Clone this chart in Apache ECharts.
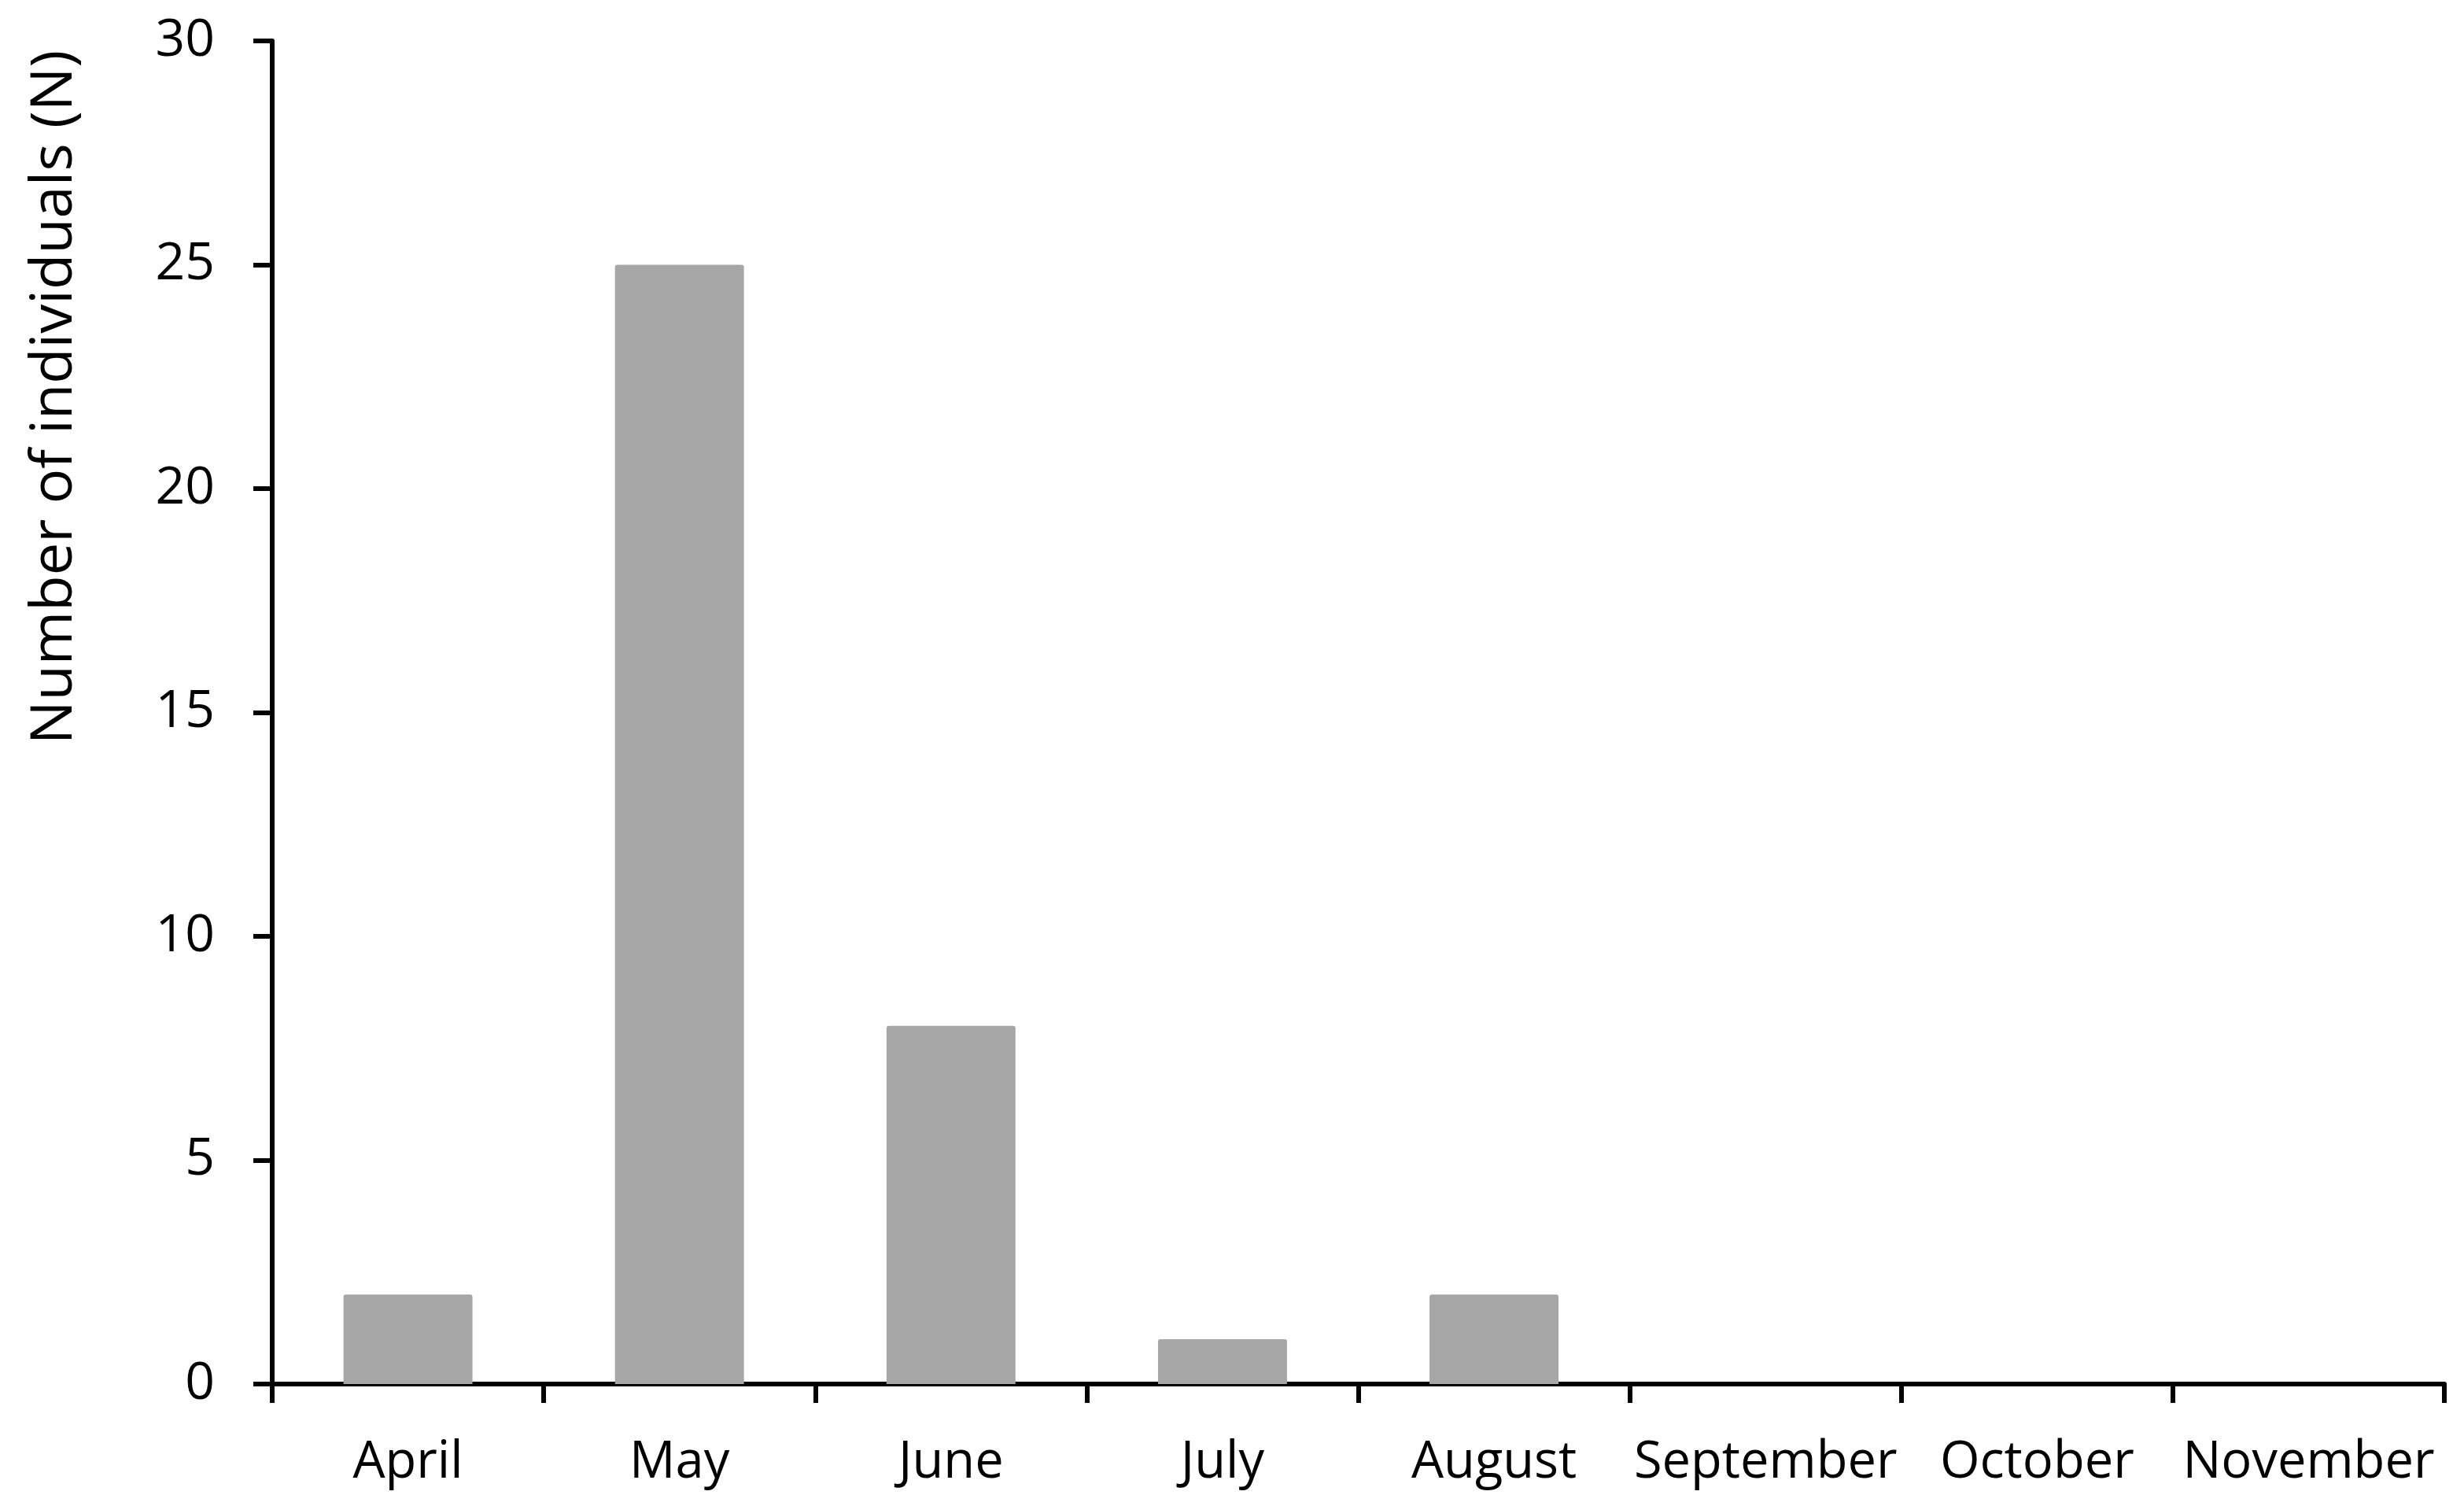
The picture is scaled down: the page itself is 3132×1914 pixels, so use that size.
<!DOCTYPE html>
<html>
<head>
<meta charset="utf-8">
<script src="https://cdn.jsdelivr.net/npm/echarts@6/dist/echarts.min.js"></script>
<style>
html,body{margin:0;padding:0;background:#fff;}
#c{width:3132px;height:1914px;}
</style>
</head>
<body>
<div id="c"></div>
<script>
const months = ['April','May','June','July','August','September','October','November'];
const counts = [2, 25, 8, 1, 2, 0, 0, 0];
const yTitle = 'Number of individuals (N)';
const yMin = 0, yMax = 30, yStep = 5;

const FONT = '"Open Sans", "Noto Sans", sans-serif';
const chart = echarts.init(document.getElementById('c'));
chart.setOption({
  animation: false,
  backgroundColor: '#ffffff',
  grid: {left: 346, right: 25, top: 52, bottom: 155, containLabel: false},
  xAxis: {
    type: 'category',
    data: months,
    boundaryGap: true,
    axisLine: {show: true, lineStyle: {color: '#000', width: 6}},
    axisTick: {show: true, inside: false, length: 24, alignWithLabel: false, lineStyle: {color: '#000', width: 6}},
    axisLabel: {color: '#000', fontFamily: FONT, fontSize: 65, margin: 68, interval: 0},
    splitLine: {show: false}
  },
  yAxis: {
    type: 'value',
    min: yMin, max: yMax, interval: yStep,
    axisLine: {show: true, lineStyle: {color: '#000', width: 6}},
    axisTick: {show: true, inside: false, length: 24, lineStyle: {color: '#000', width: 6}},
    axisLabel: {color: '#000', fontFamily: FONT, fontSize: 66, margin: 73},
    splitLine: {show: false}
  },
  graphic: [{
    type: 'text',
    x: 70, y: 505,
    rotation: Math.PI / 2,
    style: {text: yTitle, fill: '#000', font: '74px ' + FONT, textAlign: 'center', textVerticalAlign: 'middle'}
  }],
  series: [{
    type: 'bar',
    data: counts,
    barCategoryGap: '52.5%',
    itemStyle: {color: '#a6a6a6', borderRadius: [3,3,0,0]}
  }]
});
</script>
</body>
</html>
